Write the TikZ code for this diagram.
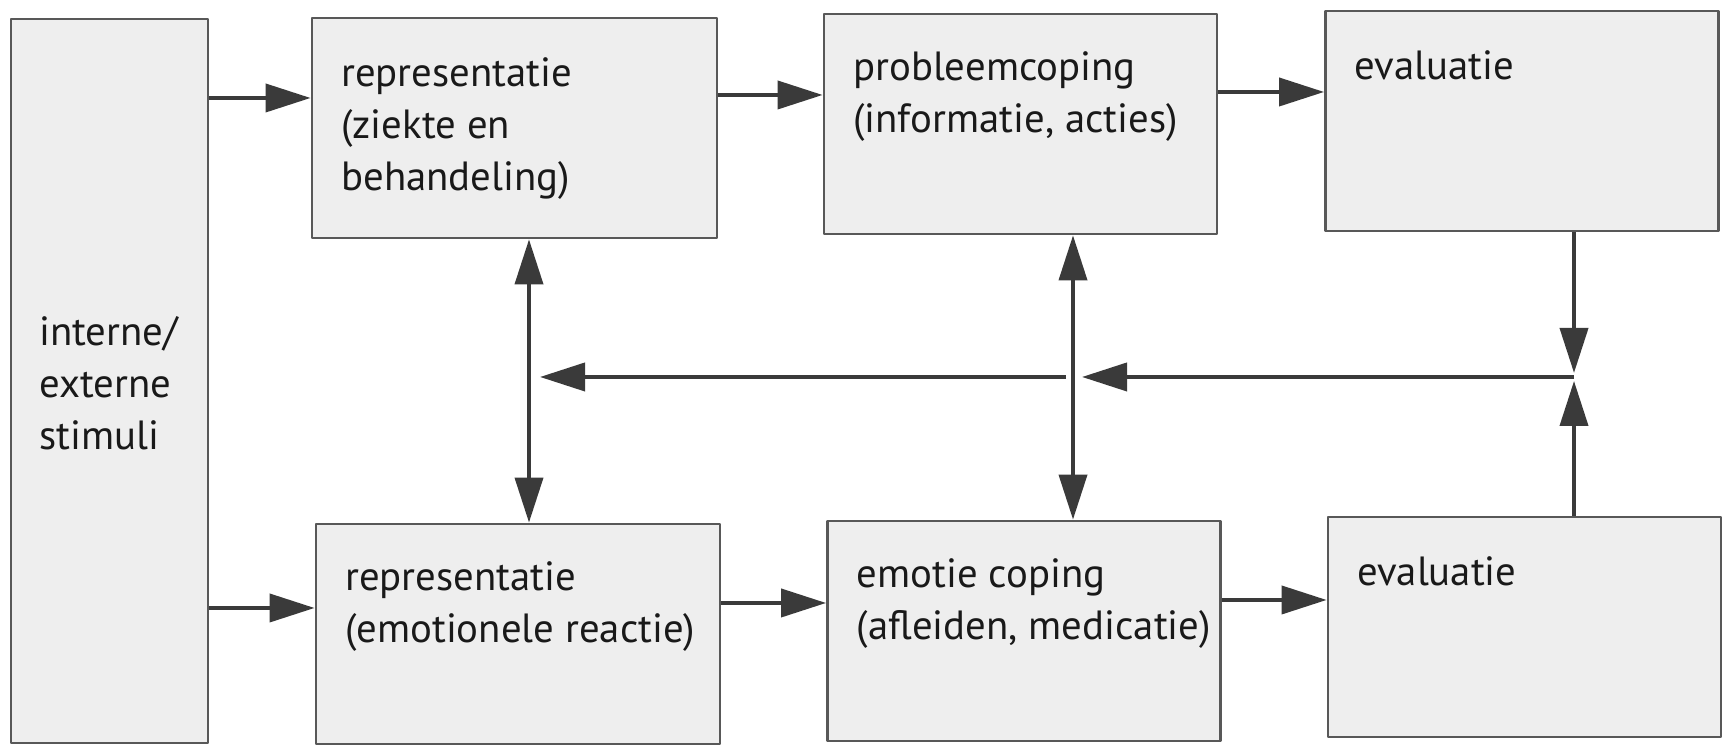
\documentclass[tikz,border=0pt]{standalone}
\usepackage{fontspec}
\setmainfont{PT Sans}
\usetikzlibrary{arrows.meta}
\definecolor{lijn}{HTML}{3A3A3A}
\definecolor{vakgrijs}{HTML}{EEEEEE}
\begin{document}
\begin{tikzpicture}[line join=round,>={Triangle[length=4.5mm,width=2.8mm]},
	font=\fontsize{11.6}{14.8}\selectfont,
	vak/.style={draw=lijn!85,fill=vakgrijs,line width=0.8pt,minimum height=2.2cm,minimum width=3.93cm,inner sep=0pt},
	tekst/.style={anchor=north west,align=left,inner sep=0pt,text=black!90,execute at begin node=\strut},
	pijl/.style={->,draw=lijn,line width=1.1pt}]
	\useasboundingbox (0,0) rectangle (17.23,7.46);
	% vakken
	\node[vak,minimum width=1.97cm,minimum height=7.24cm] (stim) at (1.095,3.65) {};
	\node[vak,minimum width=4.05cm] (rep1) at (5.145,6.18) {};
	\node[vak] (prob) at (10.205,6.22) {};
	\node[vak] (eval1) at (15.22,6.25) {};
	\node[vak,minimum width=4.04cm] (rep2) at (5.18,1.12) {};
	\node[vak] (emo) at (10.24,1.15) {};
	\node[vak] (eval2) at (15.245,1.19) {};
	% teksten
	\node[tekst,anchor=west] (tstim) at ([shift={(0.29,-0.1)}]stim.west) {interne/\\externe\\stimuli};
	\node[tekst] (trep1) at ([shift={(0.3,-0.4)}]rep1.north west) {representatie\\(ziekte en\\behandeling)};
	\node[tekst] (tprob) at ([shift={(0.3,-0.38)}]prob.north west) {probleemcoping\\(informatie, acties)};
	\node[tekst] (teval1) at ([shift={(0.3,-0.33)}]eval1.north west) {evaluatie};
	\node[tekst] (trep2) at ([shift={(0.3,-0.38)}]rep2.north west) {representatie\\(emotionele reactie)};
	\node[tekst] (temo) at ([shift={(0.3,-0.38)}]emo.north west) {emotie coping\\(afleiden, medicatie)};
	\node[tekst] (teval2) at ([shift={(0.3,-0.33)}]eval2.north west) {evaluatie};
	% pijlen
	\draw[pijl] (stim.east |- 0,6.48)--(rep1.west |- 0,6.48);
	\draw[pijl] (rep1.east |- 0,6.51)--(prob.west |- 0,6.51);
	\draw[pijl] (prob.east |- 0,6.54)--(eval1.west |- 0,6.54);
	\draw[pijl] (stim.east |- 0,1.38)--(rep2.west |- 0,1.38);
	\draw[pijl] (rep2.east |- 0,1.43)--(emo.west |- 0,1.43);
	\draw[pijl] (emo.east |- 0,1.46)--(eval2.west |- 0,1.46);
	\draw[pijl,<->] (rep1.south -| 5.29,0)--(rep2.north -| 5.29,0);
	\draw[pijl,<->] (prob.south -| 10.73,0)--(emo.north -| 10.73,0);
	\coordinate (knoop) at (15.74,3.69);
	\coordinate (links1) at (10.82,3.69);
	\coordinate (links2) at (10.66,3.69);
	\coordinate (links3) at (5.40,3.69);
	\draw[pijl] (eval1.south -| knoop)--([yshift=0.4mm]knoop);
	\draw[pijl] (eval2.north -| knoop)--([yshift=-0.4mm]knoop);
	\draw[pijl] (knoop)--(links1);
	\draw[pijl] (links2)--(links3);
\end{tikzpicture}
\end{document}
